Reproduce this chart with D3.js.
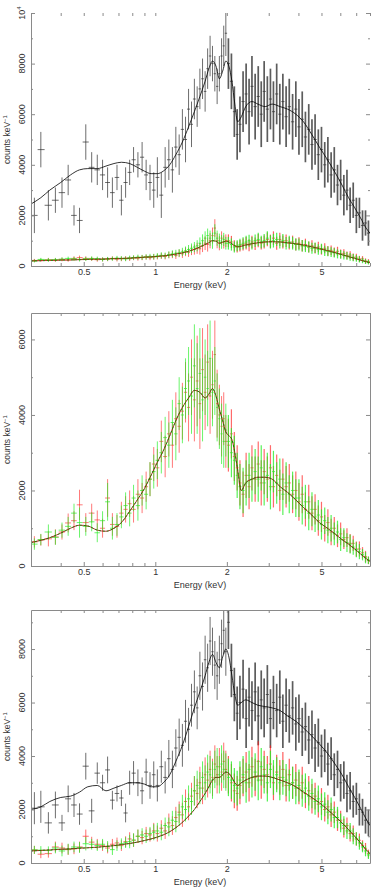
<!DOCTYPE html>
<html>
<head>
<meta charset="utf-8">
<script src="https://cdn.jsdelivr.net/npm/d3@7"></script>
<style>
  body { margin: 0; background: #fff; }
  text { font-family: "Liberation Sans", Arial, sans-serif; fill: #333; }
</style>
</head>
<body>
<svg id="chart" width="382" height="889"></svg>
<script>
// bin centres (keV) shared by every spectrum
var energy = [
  0.31, 0.33, 0.355, 0.38, 0.405, 0.43, 0.455, 0.48, 0.51, 0.54, 0.57, 0.60, 0.63, 0.66, 0.69, 0.72, 0.75, 0.78, 0.81, 0.845, 0.88, 0.915, 0.95, 0.985,
  1.02, 1.06, 1.10, 1.14, 1.18, 1.22, 1.26, 1.30, 1.34, 1.38, 1.42, 1.46, 1.50, 1.54, 1.58, 1.62, 1.66, 1.70, 1.74, 1.78, 1.82, 1.86, 1.90, 1.94, 1.98,
  2.03, 2.09, 2.15, 2.21, 2.27, 2.34, 2.41, 2.48, 2.55, 2.63, 2.71, 2.79, 2.87, 2.96, 3.05, 3.14, 3.24, 3.34, 3.44, 3.55, 3.66, 3.78, 3.90,
  4.02, 4.15, 4.28, 4.42, 4.56, 4.70, 4.85, 5.00, 5.16, 5.32, 5.49, 5.66, 5.84, 6.02, 6.21, 6.40, 6.60, 6.80, 7.01, 7.22, 7.44, 7.66, 7.88
];
// energies where the folded models are sampled
var modelEnergy = [
  0.30, 0.33, 0.36, 0.40, 0.44, 0.48, 0.52, 0.57, 0.62, 0.67, 0.72, 0.78, 0.84, 0.90, 0.96,
  1.02, 1.08, 1.15, 1.22, 1.30, 1.38, 1.46, 1.54, 1.62, 1.68, 1.74, 1.80, 1.86, 1.92, 1.98,
  2.04, 2.10, 2.16, 2.22, 2.30, 2.40, 2.55, 2.70, 2.90, 3.10,
  3.35, 3.60, 3.90, 4.20, 4.55, 4.90, 5.30, 5.70, 6.10, 6.50, 6.90, 7.30, 7.70, 8.00
];

var xMajor = [0.5, 1, 2, 5];
var xTickLabels = ["0.5", "1", "2", "5"];
var xMinor = [0.4, 0.6, 0.7, 0.8, 0.9, 3, 4, 6, 7, 8];

var yTicks1 = [0, 2000, 4000, 6000, 8000, 10000];
var yLabels1 = ["0", "2000", "4000", "6000", "8000", "10^4"];
var yTicks2 = [0, 2000, 4000, 6000];
var yLabels2 = ["0", "2000", "4000", "6000"];
var yTicks3 = [0, 2000, 4000, 6000, 8000];
var yLabels3 = ["0", "2000", "4000", "6000", "8000"];

// ---- panel 1 ----
var black1 = [
  2000, 4600, 2400, 2600, 2900, 3400, 2000, 1800, 4900, 3900, 3800, 3600, 3300, 2900, 3500, 2600, 3300, 3700, 4200, 4000, 4300, 3600, 3300, 3000,
  3500, 2800, 3900, 4200, 3800, 4700, 4400, 5400, 5000, 6200, 5600, 6600, 6300, 7000, 7400, 6900, 7800, 8300, 8000, 7600, 7100, 7600, 8300, 8700, 9200,
  8000, 7300, 6100, 5200, 5600, 6500, 6800, 6100, 7100, 6300, 6700, 6000, 6900, 6200, 6600, 6100, 6800, 6000, 6500, 5900, 6300, 5700, 6200,
  5500, 5800, 5100, 5400, 4800, 5000, 4400, 4600, 4000, 4200, 3600, 3800, 3200, 3400, 2800, 3000, 2400, 2600, 2000, 2100, 1600, 1700, 1300
];
var black1Err = [
  700, 700, 600, 500, 600, 600, 400, 500, 700, 600, 600, 600, 600, 600, 500, 600, 600, 500, 500, 500, 600, 600, 700, 700,
  800, 900, 800, 800, 900, 800, 800, 800, 900, 800, 900, 800, 800, 800, 800, 800, 800, 800, 700, 700, 700, 700, 700, 800, 900,
  1000, 1100, 1000, 1000, 1100, 1200, 1200, 1300, 1200, 1300, 1200, 1300, 1200, 1300, 1200, 1200, 1200, 1200, 1100, 1200, 1100, 1100, 1100,
  1100, 1100, 1000, 1000, 1000, 1000, 1000, 900, 900, 900, 900, 900, 800, 800, 800, 800, 700, 700, 700, 600, 600, 500, 500
];
var red1 = [
  220, 230, 250, 240, 260, 240, 300, 330, 300, 280, 250, 260, 270, 300, 270, 280, 300, 290, 320, 310, 330, 350, 330, 360,
  370, 400, 380, 430, 450, 420, 500, 480, 560, 540, 620, 650, 700, 680, 800, 900, 850, 1000, 1200, 1500, 1000, 900, 1100, 950, 1000,
  1000, 950, 800, 750, 800, 850, 900, 820, 950, 880, 1000, 900, 950, 1050, 980, 1100, 900, 1050, 950, 1000, 900, 950, 850,
  900, 800, 850, 750, 800, 700, 750, 650, 700, 600, 620, 550, 580, 480, 500, 420, 430, 350, 350, 280, 280, 200, 180
];
var green1 = [
  200, 260, 240, 250, 270, 300, 280, 260, 280, 300, 290, 260, 280, 290, 310, 300, 280, 320, 330, 350, 340, 360, 380, 370,
  400, 420, 410, 450, 480, 500, 520, 560, 600, 650, 700, 750, 800, 900, 1000, 1100, 1200, 1100, 1000, 1300, 1100, 1000, 950, 1050, 900,
  900, 850, 750, 800, 850, 900, 950, 1000, 900, 1000, 1050, 950, 1000, 1100, 950, 1000, 1050, 950, 1000, 900, 950, 900, 850,
  850, 800, 780, 750, 700, 720, 650, 680, 600, 580, 550, 520, 480, 460, 420, 400, 360, 330, 300, 260, 220, 180, 150
];
var mosErr1 = [
  60, 60, 70, 70, 70, 70, 80, 80, 80, 80, 80, 80, 80, 80, 90, 90, 90, 90, 90, 100, 100, 100, 100, 110,
  110, 120, 120, 130, 140, 140, 150, 160, 170, 180, 190, 200, 220, 230, 250, 270, 280, 300, 320, 350, 300, 280, 270, 260, 250,
  250, 240, 220, 220, 230, 240, 250, 240, 250, 250, 260, 250, 260, 270, 260, 270, 260, 260, 260, 250, 250, 250, 240,
  240, 230, 230, 220, 220, 210, 210, 200, 200, 190, 190, 180, 180, 170, 160, 150, 150, 140, 130, 120, 110, 100, 90
];
var modelBlack1 = [
  2450, 2700, 3000, 3300, 3600, 3800, 3850, 3850, 3950, 4050, 4100, 4050, 3900, 3750, 3650,
  3650, 3750, 4000, 4400, 4900, 5500, 6100, 6700, 7300, 7800, 8100, 7900, 7400, 7700, 8100,
  7900, 7300, 6400, 5700, 5900, 6300, 6500, 6400, 6300, 6400,
  6300, 6200, 6000, 5700, 5200, 4700, 4200, 3700, 3200, 2700, 2300, 1900, 1500, 1300
];
var modelMos1 = [
  200, 210, 220, 230, 240, 250, 260, 270, 280, 290, 300, 310, 330, 350, 360,
  380, 400, 430, 470, 520, 580, 660, 750, 850, 920, 1000, 980, 900, 940, 980,
  950, 880, 800, 760, 780, 830, 880, 920, 950, 960,
  950, 920, 880, 830, 760, 690, 610, 530, 450, 370, 300, 230, 170, 130
];

// ---- panel 2 ----
var red2 = [
  640, 690, 720, 770, 900, 1140, 1200, 1620, 1150, 1400, 1220, 1000, 1800, 1100, 1050, 1400, 1500, 1650, 1500, 1900, 1800, 2100, 2300, 2700,
  2600, 3300, 2900, 3500, 3200, 3900, 3700, 4100, 4600, 4200, 5000, 4400, 4900, 4300, 5200, 4600, 5400, 4500, 4800, 5600, 4300, 4000, 3700, 3900, 3300,
  3200, 3500, 2900, 2600, 2200, 1900, 2400, 2100, 2600, 2300, 2700, 2200, 2500, 2300, 2600, 2100, 2400, 2000, 2300, 2100, 2200, 1900, 2000,
  1700, 1900, 1500, 1700, 1400, 1500, 1200, 1300, 1000, 1150, 900, 1000, 800, 850, 700, 750, 600, 600, 450, 450, 350, 250, 150
];
var green2 = [
  580, 700, 900, 760, 950, 1050, 1400, 1150, 1050, 1170, 880, 1200, 1700, 1000, 1100, 1300, 1600, 1400, 1800, 1600, 2000, 1900, 2300, 2500,
  2800, 3000, 3400, 3200, 3800, 3500, 4300, 4000, 4700, 4900, 4500, 5300, 4700, 5100, 4400, 5000, 4700, 5500, 4600, 4900, 4200, 3900, 3500, 3300, 3600,
  3300, 3000, 2800, 2400, 2100, 2000, 2200, 2400, 2300, 2500, 2300, 2600, 2200, 2400, 2100, 2500, 2200, 2300, 1900, 2200, 1900, 2000, 1800,
  1800, 1600, 1700, 1400, 1500, 1300, 1350, 1100, 1200, 950, 1000, 850, 900, 700, 750, 620, 580, 500, 430, 380, 300, 220, 150
];
var mosErr2 = [
  150, 150, 200, 200, 200, 250, 250, 400, 250, 250, 250, 250, 500, 300, 300, 300, 350, 350, 350, 400, 400, 400, 450, 450,
  500, 550, 550, 600, 600, 700, 700, 750, 800, 900, 1000, 1100, 1200, 1200, 1100, 1000, 1000, 1000, 900, 900, 900, 800, 800, 700, 700,
  700, 650, 650, 600, 600, 600, 600, 600, 600, 600, 600, 600, 600, 600, 600, 550, 550, 550, 550, 550, 500, 500, 500,
  500, 500, 450, 450, 450, 400, 400, 400, 350, 350, 350, 300, 300, 300, 250, 250, 250, 200, 200, 200, 150, 150, 100
];
var modelMos2 = [
  620, 680, 750, 870, 1000, 1080, 1060, 950, 920, 1000, 1150, 1450, 1750, 2050, 2400,
  2750, 3050, 3450, 3850, 4200, 4450, 4650, 4600, 4450, 4550, 4700, 4500, 4150, 3850, 3550,
  3450, 3350, 3000, 2550, 2000, 2200, 2300, 2350, 2350, 2300,
  2100, 1950, 1750, 1550, 1350, 1150, 1000, 850, 700, 580, 450, 320, 200, 120
];

// ---- panel 3 ----
var black3 = [
  2050, 2100, 1500, 2170, 1500, 2400, 2170, 1830, 3620, 1950, 3360, 3000, 3480, 2350, 2600, 2430, 1870, 3000, 3360, 3000, 2700, 3400, 2900, 3300,
  2900, 3600, 3200, 3900, 3500, 4300, 4700, 4400, 5300, 5000, 5900, 6400, 5800, 7000, 6600, 7600, 7300, 8300, 7900, 7400, 7000, 7600, 8200, 8700, 7900,
  9000, 7200, 6300, 5600, 6000, 6500, 5400, 6200, 5700, 6400, 5500, 6100, 5800, 6300, 5400, 6000, 5700, 6200, 5300, 5900, 5500, 5800, 5200,
  5400, 4900, 5100, 4600, 4800, 4300, 4500, 4000, 4200, 3700, 3900, 3300, 3500, 3000, 3100, 2600, 2700, 2300, 2400, 2000, 1900, 1600, 1500
];
var black3Err = [
  600, 600, 400, 500, 300, 500, 450, 400, 500, 450, 400, 300, 500, 350, 300, 300, 350, 450, 450, 500, 500, 500, 500, 500,
  600, 600, 600, 700, 700, 700, 700, 800, 800, 800, 800, 800, 800, 900, 900, 900, 900, 900, 900, 900, 900, 900, 900, 900, 900,
  1000, 1000, 1000, 1000, 1000, 1100, 1100, 1100, 1100, 1100, 1100, 1100, 1100, 1100, 1100, 1000, 1000, 1000, 1000, 1000, 1000, 1000, 1000,
  900, 900, 900, 900, 900, 900, 900, 800, 800, 800, 800, 800, 700, 700, 700, 700, 700, 600, 600, 600, 500, 500, 500
];
var red3 = [
  490, 330, 350, 600, 560, 500, 530, 600, 1000, 780, 700, 650, 560, 700, 750, 650, 800, 900, 850, 1000, 950, 1100, 1050, 1200,
  1100, 1300, 1200, 1500, 1400, 1700, 1900, 1800, 2300, 2100, 2500, 2700, 2600, 3000, 2800, 3300, 3100, 3500, 3200, 3700, 3300, 3600, 3400, 3800, 3500,
  3300, 3000, 2700, 2600, 2900, 3200, 3400, 3000, 3600, 3200, 3800, 3100, 3500, 3300, 3700, 3000, 3400, 3200, 3500, 2900, 3300, 3000, 3100,
  2800, 3000, 2600, 2700, 2400, 2500, 2200, 2300, 2000, 2100, 1800, 1900, 1600, 1600, 1300, 1400, 1100, 1100, 900, 850, 650, 550, 350
];
var green3 = [
  490, 480, 470, 560, 450, 520, 600, 580, 720, 700, 650, 700, 620, 500, 650, 720, 760, 800, 860, 1000, 1050, 1000, 1100, 1150,
  1200, 1150, 1400, 1350, 1600, 1550, 1800, 2100, 2000, 2400, 2300, 2700, 2900, 2800, 3200, 3000, 3400, 3300, 3100, 3500, 3600, 3300, 3700, 3500, 3400,
  3200, 3100, 2900, 2800, 3100, 3300, 3000, 3500, 3200, 3400, 3100, 3600, 3300, 3000, 3500, 3200, 3300, 3000, 3200, 3100, 2900, 3000, 2800,
  2900, 2700, 2800, 2500, 2600, 2300, 2400, 2100, 2200, 1900, 2000, 1700, 1700, 1500, 1400, 1200, 1200, 1000, 900, 750, 600, 450, 300
];
var mosErr3 = [
  150, 150, 150, 200, 200, 200, 200, 200, 250, 200, 200, 200, 200, 200, 200, 200, 200, 250, 250, 250, 250, 250, 250, 300,
  300, 300, 300, 350, 350, 400, 400, 450, 450, 500, 500, 550, 550, 600, 600, 650, 650, 700, 700, 700, 700, 700, 700, 700, 700,
  700, 700, 650, 650, 700, 700, 750, 700, 750, 700, 750, 700, 700, 700, 700, 650, 650, 650, 650, 600, 600, 600, 600,
  600, 600, 550, 550, 550, 500, 500, 500, 450, 450, 450, 400, 400, 350, 350, 300, 300, 300, 250, 250, 200, 200, 150
];
var modelBlack3 = [
  2000, 2100, 2300, 2450, 2500, 2650, 2850, 2900, 2700, 2800, 2900, 3000, 3000, 2950, 2850,
  2850, 3000, 3300, 3800, 4400, 5100, 5800, 6400, 7000, 7500, 7800, 7500, 7300, 7700, 8000,
  7700, 7000, 6300, 5900, 6000, 6100, 6000, 5900, 5850, 5800,
  5700, 5500, 5300, 5050, 4750, 4450, 4100, 3700, 3300, 2850, 2450, 2050, 1650, 1400
];
var modelMos3 = [
  450, 470, 490, 510, 530, 550, 570, 590, 620, 650, 690, 730, 780, 840, 900,
  970, 1050, 1170, 1320, 1520, 1750, 2000, 2300, 2600, 2850, 3100, 3200, 3200, 3300, 3400,
  3350, 3200, 3000, 2900, 3000, 3100, 3200, 3250, 3250, 3200,
  3100, 3000, 2850, 2650, 2450, 2250, 2000, 1750, 1500, 1250, 1000, 750, 500, 350
];

var BLACK = "#333", RED = "#ff1a1a", GREEN = "#22ee22";

var panels = [
  { top: 13, bottom: 266, yMax: 10000, ticks: yTicks1, labels: yLabels1, box: false,
    data: [{ v: black1, e: black1Err, c: BLACK, o: 0.8, hard: 1.7 },
           { v: red1, e: mosErr1, c: RED, o: 0.7, hard: 1.2 },
           { v: green1, e: mosErr1, c: GREEN, o: 0.8, hard: 1.2 }],
    models: [{ v: modelBlack1, c: "#000" }, { v: modelMos1, c: "#b00000" }, { v: modelMos1, c: "#00a000", dash: "2,2" }] },
  { top: 313, bottom: 566, yMax: 6700, ticks: yTicks2, labels: yLabels2, box: true,
    data: [{ v: red2, e: mosErr2, c: RED, o: 0.65, hard: 1.2 },
           { v: green2, e: mosErr2, c: GREEN, o: 0.75, hard: 1.2 }],
    models: [{ v: modelMos2, c: "#a00000" }, { v: modelMos2, c: "#009000", dash: "2,2" }] },
  { top: 610, bottom: 863, yMax: 9460, ticks: yTicks3, labels: yLabels3, box: true,
    data: [{ v: black3, e: black3Err, c: BLACK, o: 0.8, hard: 1.7 },
           { v: red3, e: mosErr3, c: RED, o: 0.7, hard: 1.2 },
           { v: green3, e: mosErr3, c: GREEN, o: 0.8, hard: 1.2 }],
    models: [{ v: modelBlack3, c: "#000" }, { v: modelMos3, c: "#a00000" }, { v: modelMos3, c: "#009000", dash: "2,2" }] }
];

var svg = d3.select("#chart");
var x = d3.scaleLog().domain([0.3, 8]).range([31, 370]);

// each bin reaches half way (in log E) to its neighbours
var bins = energy.map(function(e, i) {
  var prev = i > 0 ? energy[i - 1] : e * e / energy[i + 1];
  var next = i < energy.length - 1 ? energy[i + 1] : e * e / energy[i - 1];
  return [Math.sqrt(prev * e), Math.sqrt(e * next)];
});

panels.forEach(function(p, pi) {
  var y = d3.scaleLinear().domain([0, p.yMax]).range([p.bottom, p.top]);
  var g = svg.append("g");

  svg.append("clipPath").attr("id", "clip" + pi)
    .append("rect").attr("x", 31).attr("y", p.top)
    .attr("width", 339).attr("height", p.bottom - p.top);
  var plot = g.append("g").attr("clip-path", "url(#clip" + pi + ")");

  p.data.forEach(function(s) {
    var pts = energy.map(function(e, i) { return { e: e, v: s.v[i], err: s.e[i], b: bins[i] }; })
      .filter(function(d) { return d.v != null; });
    var sg = plot.append("g").attr("stroke", s.c).attr("stroke-opacity", s.o);
    // above 2 keV the original binning is very fine, so strokes are heavier there
    sg.selectAll(".ev").data(pts).enter().append("line")
      .attr("stroke-width", function(d) { return d.e > 2 ? s.hard : 0.9; })
      .attr("x1", function(d) { return x(d.e); })
      .attr("x2", function(d) { return x(d.e); })
      .attr("y1", function(d) { return y(d.v - d.err); })
      .attr("y2", function(d) { return y(d.v + d.err); });
    sg.selectAll(".eh").data(pts).enter().append("line")
      .attr("stroke-width", 0.9)
      .attr("x1", function(d) { return x(d.b[0]); })
      .attr("x2", function(d) { return x(d.b[1]); })
      .attr("y1", function(d) { return y(d.v); })
      .attr("y2", function(d) { return y(d.v); });
  });

  p.models.forEach(function(m) {
    var line = d3.line()
      .x(function(d) { return x(d[0]); })
      .y(function(d) { return y(d[1]); })
      .curve(d3.curveMonotoneX);
    plot.append("path")
      .datum(d3.zip(modelEnergy, m.v))
      .attr("fill", "none")
      .attr("stroke", m.c)
      .attr("stroke-width", 0.8)
      .attr("stroke-dasharray", m.dash || null)
      .attr("d", line);
  });

  // axes
  var axisColor = "#8a8a8a";
  g.append("g").attr("transform", "translate(0," + p.bottom + ")")
    .call(d3.axisBottom(x).tickValues(xMajor).tickSize(-4).tickSizeOuter(0).tickPadding(3)
      .tickFormat(function(d, i) { return xTickLabels[i]; }));
  g.append("g").attr("transform", "translate(0," + p.bottom + ")")
    .call(d3.axisBottom(x).tickValues(xMinor).tickSize(-3).tickSizeOuter(0).tickFormat(""))
    .select(".domain").remove();
  var topAxis = g.append("g").attr("transform", "translate(0," + p.top + ")")
    .call(d3.axisTop(x).tickValues(xMajor.concat(xMinor)).tickSize(-3).tickSizeOuter(0).tickFormat(""));
  if (!p.box) topAxis.select(".domain").remove();

  var yMinor = d3.range(1000, p.yMax, 2000);
  g.append("g").attr("transform", "translate(31,0)")
    .call(d3.axisLeft(y).tickValues(p.ticks).tickSize(-4).tickSizeOuter(0).tickFormat(""));
  g.append("g").attr("transform", "translate(31,0)")
    .call(d3.axisLeft(y).tickValues(yMinor).tickSize(-2).tickSizeOuter(0).tickFormat(""))
    .select(".domain").remove();
  var rightAxis = g.append("g").attr("transform", "translate(370,0)")
    .call(d3.axisRight(y).tickValues(p.ticks).tickSize(-4).tickSizeOuter(0).tickFormat(""));
  g.append("g").attr("transform", "translate(370,0)")
    .call(d3.axisRight(y).tickValues(yMinor).tickSize(-2).tickSizeOuter(0).tickFormat(""))
    .select(".domain").remove();
  if (!p.box) rightAxis.select(".domain").remove();

  g.selectAll(".domain, .tick line").attr("stroke", axisColor);
  g.selectAll(".tick text").attr("font-size", 9).attr("fill", "#333")
    .attr("font-family", "Liberation Sans, Arial, sans-serif");

  // rotated y tick labels
  p.ticks.forEach(function(t, i) {
    var lab = p.labels[i];
    var tx = g.append("text")
      .attr("transform", "translate(25," + y(t) + ") rotate(-90)")
      .attr("text-anchor", "middle")
      .attr("font-size", 9);
    if (lab.indexOf("^") > 0) {
      var parts = lab.split("^");
      tx.append("tspan").text(parts[0]);
      tx.append("tspan").attr("dy", -4).attr("font-size", 6).text(parts[1]);
    } else {
      tx.text(lab);
    }
  });

  // axis titles
  g.append("text")
    .attr("x", 200).attr("y", p.bottom + 22)
    .attr("text-anchor", "middle").attr("font-size", 9)
    .text("Energy (keV)");
  var yt = g.append("text")
    .attr("transform", "translate(10," + (p.top + p.bottom) / 2 + ") rotate(-90)")
    .attr("text-anchor", "middle").attr("font-size", 8.5);
  yt.append("tspan").text("counts keV");
  yt.append("tspan").attr("dy", -3).attr("font-size", 6).text("\u22121");
});
</script>
</body>
</html>
